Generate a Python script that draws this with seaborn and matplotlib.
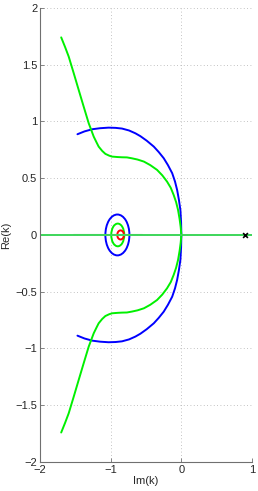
import numpy as np
import pandas as pd
import matplotlib
matplotlib.use("Agg")
import matplotlib.pyplot as plt
from matplotlib.patches import Ellipse
import seaborn as sns

# upper halves of the two outer loci (Im(k), Re(k)); lower halves are mirrored below
blue_im = [-1.47, -1.37, -1.26, -1.15, -1.03, -0.93, -0.84, -0.74, -0.65, -0.58,
           -0.49, -0.39, -0.32, -0.25, -0.19, -0.13, -0.09, -0.06, -0.035, -0.014,
           -0.004, 0.0]
blue_re = [0.887, 0.912, 0.931, 0.940, 0.945, 0.943, 0.937, 0.920, 0.895, 0.870,
           0.830, 0.778, 0.730, 0.676, 0.615, 0.544, 0.470, 0.396, 0.310, 0.220,
           0.110, 0.0]
green_im = [-1.70, -1.645, -1.594, -1.523, -1.453, -1.382, -1.311, -1.24, -1.20, -1.17,
            -1.12, -1.075, -1.02, -0.98, -0.90, -0.84, -0.77, -0.70, -0.62, -0.53,
            -0.44, -0.344, -0.27, -0.203, -0.15, -0.109, -0.075, -0.047, -0.025, -0.01,
            0.0]
green_re = [1.74, 1.655, 1.571, 1.425, 1.278, 1.130, 0.984, 0.866, 0.815, 0.778,
            0.740, 0.714, 0.698, 0.690, 0.686, 0.684, 0.683, 0.675, 0.664, 0.646,
            0.615, 0.573, 0.525, 0.470, 0.415, 0.352, 0.290, 0.220, 0.140, 0.070,
            0.0]

# small closed loops around k ~ -0.88: centre, half-width, half-height
loop_names = ["blue", "green", "red"]
loop_center = [-0.905, -0.90, -0.86]
loop_half_w = [0.17, 0.092, 0.047]
loop_half_h = [0.18, 0.10, 0.04]

# real axis line and the marked point
axis_im = [-2.0, 1.0]
axis_re = [0.0, 0.0]
faint_im = [-1.53, -0.55]
faint_re = [0.004, 0.004]
mark_im = [0.9]
mark_re = [0.0]

colors = {"blue": "#0000ff", "green": "#00f000", "red": "#ff0000"}


def half(im, re, sign):
    return pd.DataFrame({"im": im, "re": [sign * r for r in re]})


def main():
    sns.set_theme(style="white")
    plt.rcParams["font.family"] = ["Liberation Sans", "DejaVu Sans"]

    fig = plt.figure(figsize=(2.58, 4.91), dpi=100)
    ax = fig.add_axes([0.155, 0.059, 0.822, 0.925])

    for sign in (1, -1):
        sns.lineplot(data=half(blue_im, blue_re, sign), x="im", y="re", sort=False,
                     color=colors["blue"], lw=1.4, ax=ax)
        sns.lineplot(data=half(green_im, green_re, sign), x="im", y="re", sort=False,
                     color=colors["green"], lw=1.4, ax=ax)

    for name, cx, hw, hh in zip(loop_names, loop_center, loop_half_w, loop_half_h):
        ax.add_patch(Ellipse((cx, 0.0), 2 * hw, 2 * hh, fill=False,
                             edgecolor=colors[name], lw=1.4))

    sns.lineplot(x=faint_im, y=faint_re, color="#a0b0a0", lw=0.8, ax=ax)
    sns.lineplot(x=axis_im, y=axis_re, color="#3dd65a", lw=1.4, ax=ax)
    sns.scatterplot(x=mark_im, y=mark_re, marker="x", color="black", s=12,
                    linewidth=1.2, ax=ax, zorder=5)

    ax.set_xlim(-2, 1)
    ax.set_ylim(-2, 2)
    ax.set_xticks([-2, -1, 0, 1])
    ax.set_yticks([-2, -1.5, -1, -0.5, 0, 0.5, 1, 1.5, 2])
    ax.set_yticklabels(["\u22122", "\u22121.5", "\u22121", "\u22120.5", "0", "0.5", "1", "1.5", "2"])
    ax.set_xticklabels(["\u22122", "\u22121", "0", "1"])
    ax.grid(True, color="#b0b0b0", linestyle=(0, (1, 3)), linewidth=0.6)
    for side in ("top", "right"):
        ax.spines[side].set_visible(False)
    for side in ("left", "bottom"):
        ax.spines[side].set_color("#707070")
        ax.spines[side].set_linewidth(0.8)
    ax.tick_params(direction="in", length=3, width=0.6, color="#707070",
                   labelsize=8, pad=2, left=True, bottom=True)
    ax.set_xlabel("Im(k)", fontsize=8, labelpad=1)
    ax.set_ylabel("Re(k)", fontsize=8, labelpad=3)

    fig.savefig("out.png", dpi=100)


if __name__ == "__main__":
    main()
